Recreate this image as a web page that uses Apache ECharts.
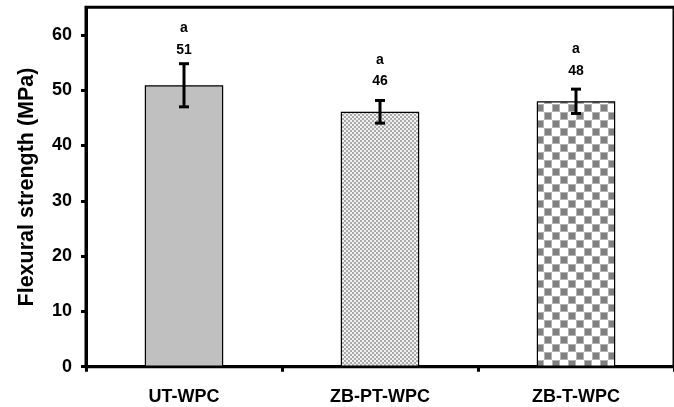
<!DOCTYPE html>
<html>
<head>
<meta charset="utf-8">
<script src="https://cdn.jsdelivr.net/npm/echarts@6/dist/echarts.min.js"></script>
<style>
html,body{margin:0;padding:0;background:#fff;}
#chart{width:674px;height:407px;}
</style>
</head>
<body>
<div id="chart"></div>
<script>
var categories = ['UT-WPC', 'ZB-PT-WPC', 'ZB-T-WPC'];
var strength = [50.9, 46.1, 48.0];
var errors = [3.9, 2.05, 2.2];
var valueLabels = ['51', '46', '48'];
var letters = ['a', 'a', 'a'];
var yTicks = [0, 10, 20, 30, 40, 50, 60];

var FONT = '"Liberation Sans", Arial, sans-serif';

function makePattern(size, draw) {
  var c = document.createElement('canvas');
  c.width = size; c.height = size;
  var ctx = c.getContext('2d');
  draw(ctx);
  return c;
}
var fineChecker = makePattern(4, function (ctx) {
  ctx.fillStyle = '#f0f0f0'; ctx.fillRect(0, 0, 4, 4);
  ctx.fillStyle = '#aaaaaa'; ctx.fillRect(0, 0, 2, 2); ctx.fillRect(2, 2, 2, 2);
});
var coarseChecker = makePattern(16, function (ctx) {
  ctx.fillStyle = '#ffffff'; ctx.fillRect(0, 0, 16, 16);
  ctx.fillStyle = '#b4b4b4'; ctx.fillRect(0, 0, 8, 8); ctx.fillRect(8, 8, 8, 8);
  ctx.fillStyle = '#808080'; ctx.fillRect(1, 1, 6, 6); ctx.fillRect(9, 9, 6, 6);
});

var barFills = ['#c0c0c0', { image: fineChecker, repeat: 'repeat' }, { image: coarseChecker, repeat: 'repeat' }];

var barData = strength.map(function (v, i) {
  return { value: v, itemStyle: { color: barFills[i] } };
});
var errData = strength.map(function (v, i) { return [i, v, errors[i]]; });

var chart = echarts.init(document.getElementById('chart'), null, { renderer: 'canvas' });
chart.setOption({
  animation: false,
  backgroundColor: '#ffffff',
  grid: { left: 86, top: 7.3, bottom: 40.3, right: -13.5, show: true, borderColor: '#000', borderWidth: 3, backgroundColor: 'transparent' },
  xAxis: {
    type: 'category',
    data: categories,
    axisLine: { lineStyle: { color: '#000', width: 3 } },
    axisTick: { show: true, length: 5, lineStyle: { color: '#000', width: 3 } },
    axisLabel: { color: '#000', fontFamily: FONT, fontWeight: 'bold', fontSize: 18, margin: 21 }
  },
  yAxis: {
    type: 'value',
    min: 0, max: 65, interval: 10,
    name: 'Flexural strength (MPa)',
    nameLocation: 'middle',
    nameGap: 48,
    nameTextStyle: { color: '#000', fontFamily: FONT, fontWeight: 'bold', fontSize: 21.5 },
    axisLine: { show: true, lineStyle: { color: '#000', width: 3 } },
    axisTick: { show: true, length: 5, customValues: yTicks, lineStyle: { color: '#000', width: 3 } },
    axisLabel: { color: '#000', fontFamily: FONT, fontWeight: 'bold', fontSize: 18, margin: 14, customValues: yTicks },
    splitLine: { show: false }
  },
  series: [
    {
      type: 'bar',
      data: barData,
      barWidth: '40%',
      itemStyle: { borderColor: '#000', borderWidth: 1.2 }
    },
    {
      type: 'custom',
      data: errData,
      encode: { x: 0, y: [1] },
      z: 10,
      renderItem: function (params, api) {
        var i = api.value(0), v = api.value(1), e = api.value(2);
        var top = api.coord([i, v + e]);
        var bot = api.coord([i, v - e]);
        var barTop = api.coord([i, v]);
        var x = top[0], hw = 5;
        var style = { stroke: '#000', lineWidth: 3 };
        var numY = ((barTop[1] - 33) + (top[1] - 16)) / 2;
        return {
          type: 'group',
          children: [
            { type: 'line', shape: { x1: x, y1: top[1], x2: x, y2: bot[1] }, style: style },
            { type: 'line', shape: { x1: x - hw, y1: top[1], x2: x + hw, y2: top[1] }, style: style },
            { type: 'line', shape: { x1: x - hw, y1: bot[1], x2: x + hw, y2: bot[1] }, style: style },
            { type: 'text', style: { x: x, y: numY, text: valueLabels[params.dataIndex], fill: '#000', font: 'bold 14px ' + FONT, align: 'center', verticalAlign: 'middle' } },
            { type: 'text', style: { x: x, y: numY - 21.5, text: letters[params.dataIndex], fill: '#000', font: 'bold 14px ' + FONT, align: 'center', verticalAlign: 'middle' } }
          ]
        };
      }
    }
  ]
});
</script>
</body>
</html>
